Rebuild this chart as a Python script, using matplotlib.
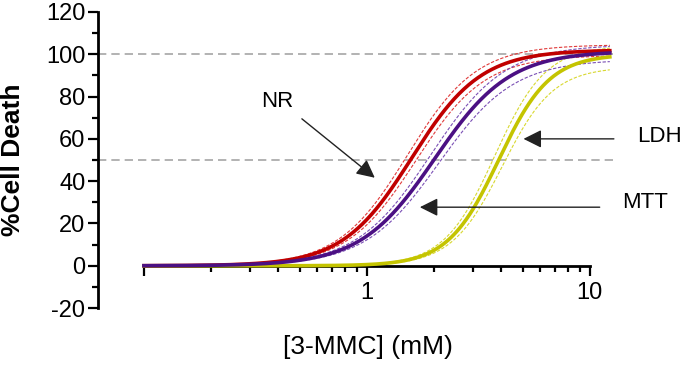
import matplotlib.pyplot as plt
import numpy as np
from matplotlib.ticker import FixedLocator, FuncFormatter

plt.rcParams['font.family'] = ['Liberation Sans', 'DejaVu Sans']
plt.rcParams['axes.unicode_minus'] = False

# Four-parameter fits (bottom fixed at 0)
assays = ['NR', 'MTT', 'LDH']
colors = ['#C00000', '#4B1083', '#C4C400']
band_colors = ['#E03a3a', '#7A4FB5', '#D8D830']
ec50 = [1.59, 2.02, 3.9]
ec50_lo = [1.52, 1.93, 3.75]
ec50_hi = [1.66, 2.11, 4.05]
hill = [2.8, 2.6, 3.8]
top = [102.0, 101.5, 100.0]
top_lo = [99.5, 97.5, 94.0]
top_hi = [104.5, 104.5, 104.0]

x_min, x_max = 0.1, 12.3
ref_lines = [100, 50]


def hill_curve(x, e, n, t):
    return t / (1 + (e / x) ** n)


fig = plt.figure(figsize=(6.85, 3.73), dpi=100)
ax = fig.add_axes([0.143, 0.174, 0.759, 0.794])

x = np.logspace(np.log10(x_min), np.log10(x_max), 400)

for y in ref_lines:
    ax.axhline(y, color='#A6A6A6', lw=1.2, ls=(0, (5, 3)), zorder=1)

for i in [0, 2, 1]:
    ax.plot(x, hill_curve(x, ec50_lo[i], hill[i], top_hi[i]),
            color=band_colors[i], lw=0.8, ls=(0, (3, 1.5)), zorder=2)
    ax.plot(x, hill_curve(x, ec50_hi[i], hill[i], top_lo[i]),
            color=band_colors[i], lw=0.8, ls=(0, (3, 1.5)), zorder=2)
    ax.plot(x, hill_curve(x, ec50[i], hill[i], top[i]),
            color=colors[i], lw=2.6, zorder=3)

# arrows and labels
arrow = dict(arrowstyle='-|>,head_length=1.1,head_width=0.55', color='#222222', lw=1.0)
ax.annotate('', xy=(1.11, 40.8), xytext=(0.50, 70.3), arrowprops=arrow)
ax.annotate('', xy=(4.9, 60.0), xytext=(13.2, 60.0), arrowprops=arrow, annotation_clip=False)
ax.annotate('', xy=(1.68, 27.7), xytext=(11.4, 27.7), arrowprops=arrow, annotation_clip=False)
ax.text(0.395, 77.5, 'NR', fontsize=16, ha='center', va='center')
ax.text(16.3, 61.0, 'LDH', fontsize=16, ha='left', va='center', clip_on=False)
ax.text(13.9, 29.8, 'MTT', fontsize=16, ha='left', va='center', clip_on=False)

ax.set_xscale('log')
ax.set_xlim(10 ** -1.206, 10 ** 1.126)
ax.set_ylim(-20, 120)

for s in ['top', 'right']:
    ax.spines[s].set_visible(False)
ax.spines['bottom'].set_position(('data', 0))
ax.spines['bottom'].set_bounds(0.1, 10)
ax.spines['left'].set_bounds(-20, 120)
ax.spines['bottom'].set_linewidth(2.0)
ax.spines['left'].set_linewidth(2.0)

ax.xaxis.set_major_locator(FixedLocator([0.1, 1, 10]))
ax.xaxis.set_minor_locator(FixedLocator([0.2, 0.3, 0.4, 0.5, 0.6, 0.7, 0.8, 0.9,
                                         2, 3, 4, 5, 6, 7, 8, 9]))
ax.xaxis.set_major_formatter(FuncFormatter(lambda v, p: '' if v < 0.5 else f'{v:g}'))
ax.xaxis.set_minor_formatter(FuncFormatter(lambda v, p: ''))
ax.yaxis.set_major_locator(FixedLocator(range(-20, 121, 20)))
ax.yaxis.set_minor_locator(FixedLocator(range(-10, 120, 20)))

ax.tick_params(axis='both', which='major', length=7, width=1.6, labelsize=17)
ax.tick_params(axis='both', which='minor', length=4.5, width=1.6)
ax.tick_params(axis='x', which='major', pad=5)
ax.tick_params(axis='y', which='major', pad=2)

ax.set_ylabel('%Cell Death', fontsize=19, fontweight='bold')
ax.yaxis.set_label_coords(-0.14, 0.5)
ax.set_xlabel('[3-MMC] (mM)', fontsize=19)
ax.xaxis.set_label_coords(0.519, -0.09)

fig.savefig('out.png', dpi=100)
